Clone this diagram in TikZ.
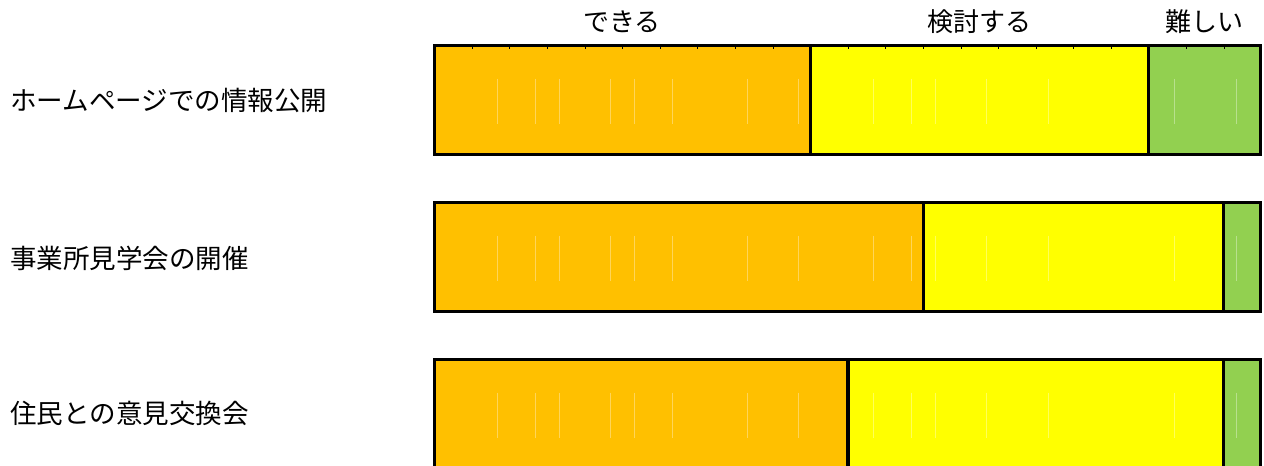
\documentclass[tikz,border=0pt]{standalone}
\usepackage{fontspec}
\newfontfamily\jpfont{Noto Sans CJK JP}
\definecolor{dekiru}{HTML}{FFC000}
\definecolor{kento}{HTML}{FFFF00}
\definecolor{muzu}{HTML}{92D050}
\begin{document}
\begin{tikzpicture}[x=.75pt, y=-.75pt, font=\jpfont\fontsize{19.5}{20}\selectfont,
    seg/.style={draw=black, line width=2.3pt},
    faint/.style={white, opacity=.35, line width=.75pt},
    rowlab/.style={anchor=west, inner sep=0, font=\jpfont\fontsize{19.9}{20}\selectfont}]
    \useasboundingbox (0,0) rectangle (1264,465);
    \clip (0,0) rectangle (1264,465);
    % bars: top / end of orange / end of yellow
    \foreach \t/\a/\b in {45.5/810.7/1148.2, 202.5/923.2/1223.2, 359.7/848/1223.2}{
        \filldraw[seg, fill=dekiru] (434.7,\t) rectangle (\a,\t+109);
        \filldraw[seg, fill=kento] (\a,\t) rectangle (\b,\t+109);
        \filldraw[seg, fill=muzu] (\b,\t) rectangle (1260.7,\t+109);
        \foreach \x in {497.3,535.7,559.3,610.3,634.3,672.3,747.3,798.7,873.3,911,935.7,986.7,1048.7,1174.7,1236.3}
            \draw[faint] (\x,\t+33) -- (\x,\t+78);
    }
    \foreach \k in {1,...,21}
        \draw[line width=.75pt] (434.7+37.6*\k,45.5) -- (434.7+37.6*\k,49);
    \node (dekiru) at (622,22) {できる};
    \node (kento) at (979,22) {検討する};
    \node (muzu) at (1204,22) {難しい};
    \node[rowlab] (hp) at (10,100) {ホームページでの情報公開};
    \node[rowlab] (kengaku) at (10,258) {事業所見学会の開催};
    \node[rowlab] (iken) at (10,413) {住民との意見交換会};
\end{tikzpicture}
\end{document}
